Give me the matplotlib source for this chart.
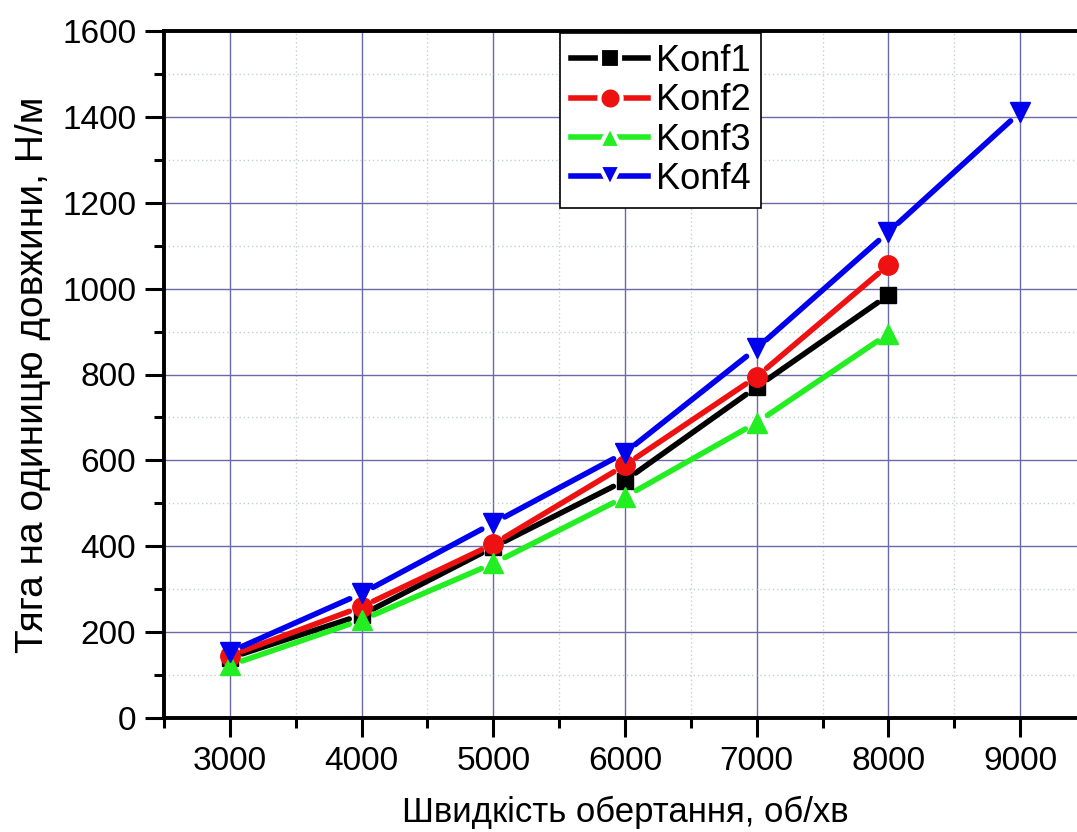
import numpy as np
import matplotlib
matplotlib.use("Agg")
import matplotlib.pyplot as plt
from matplotlib.lines import Line2D
from matplotlib.ticker import MultipleLocator

plt.rcParams["font.family"] = ["Liberation Sans", "DejaVu Sans"]

# ── data ──────────────────────────────────────────────────────────────────────
speed = [3000, 4000, 5000, 6000, 7000, 8000]
speed_k4 = [3000, 4000, 5000, 6000, 7000, 8000, 9000]
konf1 = [140, 240, 398, 553, 771, 985]
konf2 = [145, 259, 405, 589, 795, 1055]
konf3 = [123, 228, 360, 515, 688, 895]
konf4 = [154, 290, 454, 618, 861, 1132, 1411]

labels = ["Konf1", "Konf2", "Konf3", "Konf4"]
colors = ["#000000", "#ee1111", "#22ee22", "#0000ee"]
markers = ["s", "o", "^", "v"]
series = [(speed, konf1), (speed, konf2), (speed, konf3), (speed_k4, konf4)]

xlabel = "Швидкість обертання, об/хв"
ylabel = "Тяга на одиницю довжини, Н/м"

# ── figure ────────────────────────────────────────────────────────────────────
fig = plt.figure(figsize=(10.77, 8.32), dpi=100)
ax = fig.add_axes([164 / 1077, 114 / 832, 922 / 1077, 687 / 832])
ax.set_xlim(2500, 9500)
ax.set_ylim(0, 1600)

ax.xaxis.set_major_locator(MultipleLocator(1000))
ax.xaxis.set_minor_locator(MultipleLocator(500))
ax.yaxis.set_major_locator(MultipleLocator(200))
ax.yaxis.set_minor_locator(MultipleLocator(100))
ax.set_xticks(range(3000, 9001, 1000))

ax.grid(which="major", color="#6a6aa8", lw=1.0, ls="-")
ax.grid(which="minor", color="#c4d2c8", lw=1.0, ls=(0, (1, 2)))
ax.set_axisbelow(True)

ax.tick_params(which="major", direction="out", length=14, width=2.2, labelsize=24, pad=6)
ax.tick_params(which="minor", direction="out", length=7, width=2.2)
ax.tick_params(top=False, right=False)
for s in ["left", "bottom", "top"]:
    ax.spines[s].set_linewidth(2.8)
ax.spines["right"].set_visible(False)

# lines with small gaps around markers (Origin style)
gap = 13
to_disp = ax.transData
to_data = ax.transData.inverted()
for (xs, ys), c in zip(series, colors):
    pts = to_disp.transform(np.column_stack([xs, ys]))
    for p0, p1 in zip(pts[:-1], pts[1:]):
        d = p1 - p0
        u = d / np.hypot(*d)
        seg = to_data.transform(np.array([p0 + u * gap, p1 - u * gap]))
        ax.plot(seg[:, 0], seg[:, 1], color=c, lw=4, solid_capstyle="round", zorder=3)

for (xs, ys), c, m in zip(series, colors, markers):
    ms = 12 if m == "s" else 14
    ax.plot(xs, ys, ls="none", marker=m, color=c, ms=ms, mec=c, zorder=4)

handles = [Line2D([], [], color=c, lw=4, marker=m, ms=14 if m == "s" else 16,
                  mfc=c, mec="white", mew=3)
           for c, m in zip(colors, markers)]
leg = ax.legend(handles, labels, loc="upper left", bbox_to_anchor=(0.4295, 0.997),
                borderaxespad=0, fontsize=26, handlelength=2.15, handletextpad=0.2,
                labelspacing=0.12, fancybox=False, edgecolor="black", framealpha=1,
                borderpad=0.3)
leg.get_frame().set_linewidth(1.2)

ax.set_xlabel(xlabel, fontsize=25, labelpad=14)
ax.set_ylabel(ylabel, fontsize=28, labelpad=8)

fig.savefig("out.png", dpi=100)
